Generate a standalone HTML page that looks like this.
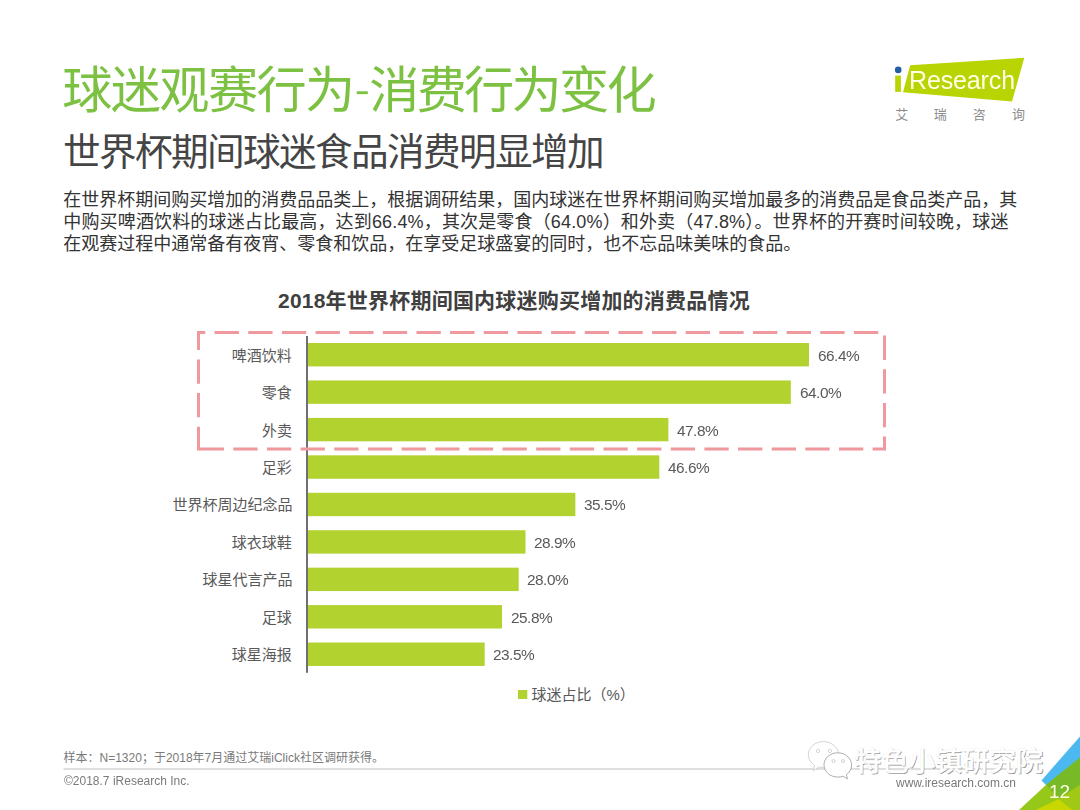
<!DOCTYPE html>
<html lang="zh-CN"><head><meta charset="utf-8"><title>球迷观赛行为-消费行为变化</title>
<style>
html,body{margin:0;padding:0;background:#fff;}
body{width:1080px;height:810px;position:relative;overflow:hidden;font-family:"Liberation Sans","Noto Sans CJK SC",sans-serif;}
#art{position:absolute;left:0;top:0;width:1080px;height:810px;display:block;}
#art text{font-family:"Liberation Sans","Noto Sans CJK SC",sans-serif;}
.t{position:absolute;will-change:transform;white-space:nowrap;line-height:1;margin:0;padding:0;}
.h{color:transparent;overflow:hidden;text-align:justify;text-align-last:justify;}
</style></head><body>
<svg id="art" width="1080" height="810" viewBox="0 0 1080 810">
<text x="62.29" y="108.25" font-size="50.16" fill="#7cc142" letter-spacing="-1.61">球迷观赛行为</text>
<rect x="356.8" y="91.3" width="11" height="2.8" fill="#7cc142"/>
<text x="369.19" y="108.25" font-size="50.16" fill="#7cc142" letter-spacing="-2.69">消费行为变化</text>
<text x="63.04" y="165.10" font-size="37.62" fill="#454545" letter-spacing="-1.61">世界杯期间球迷食品消费明显增加</text>
<text x="63.30" y="206.00" font-size="18" fill="#333333" textLength="954">在世界杯期间购买增加的消费品品类上，根据调研结果，国内球迷在世界杯期间购买增加最多的消费品是食品类产品，其</text>
<text x="63.30" y="227.80" font-size="18" fill="#333333" textLength="945.11">中购买啤酒饮料的球迷占比最高，达到66.4%，其次是零食（64.0%）和外卖（47.8%）。世界杯的开赛时间较晚，球迷</text>
<text x="63.30" y="249.60" font-size="18" fill="#333333" textLength="738">在观赛过程中通常备有夜宵、零食和饮品，在享受足球盛宴的同时，也不忘品味美味的食品。</text>
<text x="277.98" y="307.70" font-size="21" font-weight="bold" fill="#404040" textLength="471.71">2018年世界杯期间国内球迷购买增加的消费品情况</text>
<rect x="308.0" y="343.02" width="500.98" height="23.40" fill="#b1d22f"/>
<text x="231.81" y="360.72" font-size="15" fill="#595959">啤酒饮料</text>
<rect x="308.0" y="380.46" width="482.84" height="23.40" fill="#b1d22f"/>
<text x="261.68" y="398.16" font-size="15" fill="#595959">零食</text>
<rect x="308.0" y="417.90" width="360.37" height="23.40" fill="#b1d22f"/>
<text x="262.08" y="435.60" font-size="15" fill="#595959">外卖</text>
<rect x="308.0" y="455.34" width="351.30" height="23.40" fill="#b1d22f"/>
<text x="261.74" y="473.04" font-size="15" fill="#595959">足彩</text>
<rect x="308.0" y="492.78" width="267.38" height="23.40" fill="#b1d22f"/>
<text x="172.43" y="510.48" font-size="15" fill="#595959">世界杯周边纪念品</text>
<rect x="308.0" y="530.22" width="217.48" height="23.40" fill="#b1d22f"/>
<text x="231.87" y="547.92" font-size="15" fill="#595959">球衣球鞋</text>
<rect x="308.0" y="567.66" width="210.68" height="23.40" fill="#b1d22f"/>
<text x="202.43" y="585.36" font-size="15" fill="#595959">球星代言产品</text>
<rect x="308.0" y="605.10" width="194.05" height="23.40" fill="#b1d22f"/>
<text x="261.68" y="622.80" font-size="15" fill="#595959">足球</text>
<rect x="308.0" y="642.54" width="176.66" height="23.40" fill="#b1d22f"/>
<text x="231.86" y="660.24" font-size="15" fill="#595959">球星海报</text>
<rect x="306" y="336" width="2" height="336.8" fill="#6f6f74"/>
<path d="M198.5 449V332.5H884.5V449H198.5" fill="none" stroke="#ef989e" stroke-width="3" stroke-dasharray="24.3 9.35" stroke-dashoffset="2"/>
<rect x="197" y="447.5" width="3" height="3" fill="#ef989e"/>
<rect x="518" y="690" width="9.3" height="9" fill="#b1d22f"/>
<text x="531.39" y="700.00" font-size="15" fill="#595959" textLength="103.34">球迷占比（%）</text>
<text x="63.53" y="762.30" font-size="12" fill="#7a7a7a" textLength="320.4">样本：N=1320；于2018年7月通过艾瑞iClick社区调研获得。</text>
<rect x="63.5" y="768.3" width="955" height="1.4" fill="#d2d2d2"/>
<polygon points="910.2,65.2 1024.3,57.8 1012,101.5 903,92.2" fill="#b8d402"/>
<rect x="895.2" y="75.6" width="5.7" height="16.3" fill="#b8d402"/>
<circle cx="898.2" cy="69.9" r="3.3" fill="#235fa5"/>
<text x="895.20" y="118.80" font-size="13" fill="#8c8c8c">艾</text>
<text x="933.65" y="118.80" font-size="13" fill="#8c8c8c">瑞</text>
<text x="972.66" y="118.80" font-size="13" fill="#8c8c8c">咨</text>
<text x="1011.95" y="118.80" font-size="13" fill="#8c8c8c">询</text>
<polygon points="1041.5,780.4 1080,736.4 1080,759 1047,786" fill="#4bb9f0"/>
<polygon points="1019,810 1046.2,784.8 1080,757.7 1080,810" fill="#96c819"/>
<polygon points="1046.2,784.8 1080,757.7 1080,786 1058.7,799" fill="#78b928"/>
<polygon points="1080,784.8 1080,810 1071,810 1058.7,799" fill="#a0c814"/>
<polygon points="1058.7,799 1072.2,810 1035.6,810" fill="#c8d700"/>
<g id="wm">
<path d="M823.4 741.6c8.3 0 15.1 5.8 15.1 13 0 7.2-6.8 13-15.1 13-1.7 0-3.3-.2-4.8-.7l-5.3 4 1.3-5.6c-3.8-2.4-6.3-6.300-6.3-10.700 0-7.200 6.800-13 15.100-13z" fill="#fff" stroke="#c9c9c9" stroke-width="0.8"/>
<circle cx="818.1" cy="750.9" r="1.7" fill="#fff" stroke="#c4c4c4" stroke-width="0.7"/><circle cx="829.9" cy="750.9" r="1.7" fill="#fff" stroke="#c4c4c4" stroke-width="0.7"/>
<path d="M837.8 752.8c7.600 0 13.800 5.500 13.800 12.300 0 3.900-2 7.400-5.200 9.600l1 4.200-4.500-2.700c-1.600.6-3.300.9-5.100.9-7.600 0-13.800-5.500-13.800-12.300 0-6.800 6.200-12 13.800-12z" fill="#fff" stroke="#a4a4a4" stroke-width="0.9"/>
<circle cx="833.5" cy="761" r="1.5" fill="#fff" stroke="#c0c0c0" stroke-width="0.7"/><circle cx="843" cy="761" r="1.5" fill="#fff" stroke="#c0c0c0" stroke-width="0.7"/>
<g fill="#909090" transform="translate(0.8 0.8)"><text x="854.54" y="771.20" font-size="27" font-weight="500" textLength="188.56">特色小镇研究院</text></g>
<g fill="#ffffff" stroke="#ececec" stroke-width="0.5" paint-order="stroke"><text x="854.54" y="771.20" font-size="27" font-weight="500" textLength="188.56">特色小镇研究院</text></g>
</g>
</svg>
<div class="t h" style="left:63.10px;top:67.62px;font-size:48.00px;width:592.70px;">球迷观赛行为-消费行为变化</div>
<div class="t h" style="left:63.85px;top:134.63px;font-size:36.00px;width:540.09px;">世界杯期间球迷食品消费明显增加</div>
<div class="t h" style="left:63.57px;top:190.76px;font-size:18.00px;width:954.00px;">在世界杯期间购买增加的消费品品类上，根据调研结果，国内球迷在世界杯期间购买增加最多的消费品是食品类产品，其</div>
<div class="t h" style="left:63.57px;top:212.56px;font-size:18.00px;width:945.11px;">中购买啤酒饮料的球迷占比最高，达到66.4%，其次是零食（64.0%）和外卖（47.8%）。世界杯的开赛时间较晚，球迷</div>
<div class="t h" style="left:63.57px;top:234.36px;font-size:18.00px;width:738.00px;">在观赛过程中通常备有夜宵、零食和饮品，在享受足球盛宴的同时，也不忘品味美味的食品。</div>
<div class="t h" style="left:277.98px;top:289.92px;font-size:21.00px;width:471.71px;">2018年世界杯期间国内球迷购买增加的消费品情况</div>
<div class="t h" style="left:231.81px;top:348.02px;font-size:15.00px;width:60.00px;">啤酒饮料</div>
<div class="t" style="left:817.68px;top:348px;font-size:15.40px;color:#595959;letter-spacing:-0.50px;">66.4%</div>
<div class="t h" style="left:261.68px;top:385.46px;font-size:15.00px;width:30.00px;">零食</div>
<div class="t" style="left:799.54px;top:385px;font-size:15.40px;color:#595959;letter-spacing:-0.50px;">64.0%</div>
<div class="t h" style="left:262.08px;top:422.90px;font-size:15.00px;width:30.00px;">外卖</div>
<div class="t" style="left:677.07px;top:423px;font-size:15.40px;color:#595959;letter-spacing:-0.50px;">47.8%</div>
<div class="t h" style="left:261.74px;top:460.34px;font-size:15.00px;width:30.00px;">足彩</div>
<div class="t" style="left:668.00px;top:460px;font-size:15.40px;color:#595959;letter-spacing:-0.50px;">46.6%</div>
<div class="t h" style="left:172.43px;top:497.78px;font-size:15.00px;width:120.00px;">世界杯周边纪念品</div>
<div class="t" style="left:584.08px;top:497px;font-size:15.40px;color:#595959;letter-spacing:-0.50px;">35.5%</div>
<div class="t h" style="left:231.87px;top:535.22px;font-size:15.00px;width:60.00px;">球衣球鞋</div>
<div class="t" style="left:534.18px;top:535px;font-size:15.40px;color:#595959;letter-spacing:-0.50px;">28.9%</div>
<div class="t h" style="left:202.43px;top:572.66px;font-size:15.00px;width:90.00px;">球星代言产品</div>
<div class="t" style="left:527.38px;top:572px;font-size:15.40px;color:#595959;letter-spacing:-0.50px;">28.0%</div>
<div class="t h" style="left:261.68px;top:610.10px;font-size:15.00px;width:30.00px;">足球</div>
<div class="t" style="left:510.75px;top:610px;font-size:15.40px;color:#595959;letter-spacing:-0.50px;">25.8%</div>
<div class="t h" style="left:231.86px;top:647.54px;font-size:15.00px;width:60.00px;">球星海报</div>
<div class="t" style="left:493.36px;top:647px;font-size:15.40px;color:#595959;letter-spacing:-0.50px;">23.5%</div>
<div class="t h" style="left:531.39px;top:687.30px;font-size:15.00px;width:103.34px;">球迷占比（%）</div>
<div class="t h" style="left:63.53px;top:752.14px;font-size:12.00px;width:320.40px;">样本：N=1320；于2018年7月通过艾瑞iClick社区调研获得。</div>
<div class="t" style="left:63.60px;top:775px;font-size:12.00px;color:#7a7a7a;">©2018.7 iResearch Inc.</div>
<div class="t" style="left:895.50px;top:777px;font-size:12.00px;color:#7a7a7a;">www.iresearch.com.cn</div>
<div class="t" style="left:909.00px;top:68px;font-size:25.00px;color:#ffffe8;letter-spacing:-0.13px;">Research</div>
<div class="t h" style="left:895.00px;top:107.80px;font-size:13.00px;width:131.00px;">艾瑞咨询</div>
<div class="t" style="left:1049.30px;top:782px;font-size:19.00px;color:#ffffe0;">12</div>
<div class="t h" style="left:854.57px;top:748.34px;font-size:27.00px;width:188.56px;">特色小镇研究院</div>
</body></html>
